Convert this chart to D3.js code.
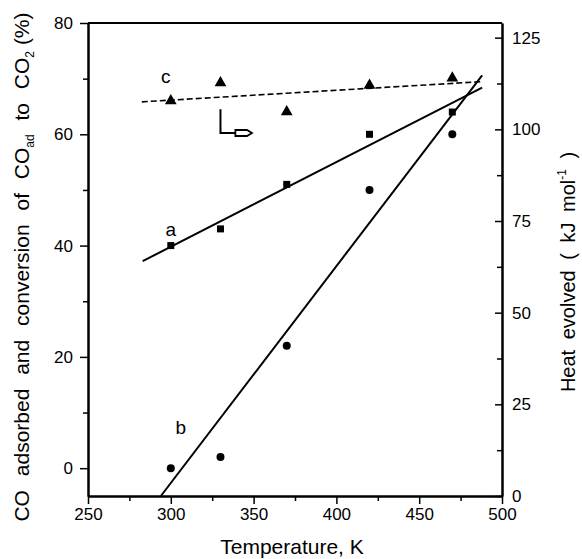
<!DOCTYPE html>
<html>
<head>
<meta charset="utf-8">
<script src="https://cdn.jsdelivr.net/npm/d3@7"></script>
<style>
  body { margin: 0; background: #fff; }
  svg { font-family: "Liberation Sans", Arial, sans-serif; }
</style>
</head>
<body>
<div id="chart"></div>
<script>
// Data
const temps = [300, 330, 370, 420, 470];
const convA = [40, 43, 51, 60, 64];          // squares, left axis (%)
const convB = [0, 2, 22, 50, 60];            // circles, left axis (%)
const heatC = [107.8, 112.7, 104.8, 112, 114]; // triangles, right axis (kJ/mol)

// fitted lines: [temperature, value]
const fitA = [[283, 37.2], [488, 68.4]];
const fitB = [[294, -5], [488, 70.6]];
const fitC = [[282.5, 107.5], [487.5, 113]];

const xTicks = [250, 300, 350, 400, 450, 500];
const yLeftTicks = [0, 20, 40, 60, 80];
const yRightTicks = [0, 25, 50, 75, 100, 125];

const margin = { top: 23, right: 80, bottom: 63, left: 88 };
const width = 582 - margin.left - margin.right;
const height = 559 - margin.top - margin.bottom;

const svg = d3.select("#chart")
  .append("svg")
  .attr("width", 582)
  .attr("height", 559);

const g = svg.append("g")
  .attr("transform", "translate(" + margin.left + "," + margin.top + ")");

const x = d3.scaleLinear().domain([250, 500]).range([0, width]);
const yL = d3.scaleLinear().domain([-5, 80]).range([height, 0]);
const yR = d3.scaleLinear().domain([0, 129]).range([height, 0]);

// frame top
g.append("line").attr("x1", 0).attr("x2", width).attr("y1", 0).attr("y2", 0)
  .attr("stroke", "#000").attr("stroke-width", 2);

// axes
function styleAxis(sel) {
  sel.select(".domain").attr("stroke-width", 2);
  sel.selectAll(".tick line").attr("stroke-width", 1.5);
  sel.selectAll("text").attr("font-size", 17).attr("fill", "#000");
}

g.append("g").attr("transform", "translate(0," + height + ")")
  .call(d3.axisBottom(x).tickValues(xTicks).tickSize(8).tickPadding(4).tickSizeOuter(0))
  .call(styleAxis);
g.append("g").attr("transform", "translate(0," + height + ")")
  .call(d3.axisBottom(x).tickValues([275, 325, 375, 425, 475]).tickSize(5).tickFormat("").tickSizeOuter(0))
  .call(styleAxis);

g.append("g")
  .call(d3.axisLeft(yL).tickValues(yLeftTicks).tickSize(8).tickPadding(7).tickSizeOuter(0))
  .call(styleAxis);
g.append("g")
  .call(d3.axisLeft(yL).tickValues([10, 30, 50, 70]).tickSize(5).tickFormat("").tickSizeOuter(0))
  .call(styleAxis);

g.append("g").attr("transform", "translate(" + width + ",0)")
  .call(d3.axisRight(yR).tickValues(yRightTicks).tickSize(-7).tickPadding(10).tickSizeOuter(0))
  .call(styleAxis);
g.append("g").attr("transform", "translate(" + width + ",0)")
  .call(d3.axisRight(yR).tickValues([12.5, 37.5, 62.5, 87.5, 112.5]).tickSize(-5).tickFormat("").tickSizeOuter(0))
  .call(styleAxis);

// fit lines
const lineL = d3.line().x(d => x(d[0])).y(d => yL(d[1]));
const lineR = d3.line().x(d => x(d[0])).y(d => yR(d[1]));

g.append("path").attr("d", lineL(fitA)).attr("fill", "none")
  .attr("stroke", "#000").attr("stroke-width", 2);
g.append("path").attr("d", lineL(fitB)).attr("fill", "none")
  .attr("stroke", "#000").attr("stroke-width", 2);
g.append("path").attr("d", lineR(fitC)).attr("fill", "none")
  .attr("stroke", "#000").attr("stroke-width", 1.6).attr("stroke-dasharray", "6,3");

// markers
g.selectAll(".sq").data(temps).enter().append("rect")
  .attr("x", (d) => x(d) - 3.5)
  .attr("y", (d, i) => yL(convA[i]) - 3.5)
  .attr("width", 7).attr("height", 7).attr("fill", "#000");

g.selectAll(".ci").data(temps).enter().append("circle")
  .attr("cx", d => x(d))
  .attr("cy", (d, i) => yL(convB[i]))
  .attr("r", 4).attr("fill", "#000");

const tri = d3.symbol().type(d3.symbolTriangle).size(60);
g.selectAll(".tr").data(temps).enter().append("path")
  .attr("d", tri)
  .attr("transform", (d, i) => "translate(" + x(d) + "," + yR(heatC[i]) + ")")
  .attr("fill", "#000");

// curve labels
const labels = [["a", 300, 41.8], ["b", 306, 6.2], ["c", 297, 69.2]];
g.selectAll(".lab").data(labels).enter().append("text")
  .attr("x", d => x(d[1]))
  .attr("y", d => yL(d[2]))
  .attr("font-size", 19)
  .attr("text-anchor", "middle")
  .text(d => d[0]);

// arrow marking that curve c belongs to right axis
const ax0 = x(330), ay0 = yR(105.5), ay1 = yR(99), ax1 = x(339);
g.append("path")
  .attr("d", "M" + ax0 + "," + ay0 + "V" + ay1 + "H" + ax1)
  .attr("fill", "none").attr("stroke", "#000").attr("stroke-width", 2);
const ah = x(349);
g.append("path")
  .attr("d", "M" + ax1 + "," + (ay1 - 3) + "L" + (ah - 5) + "," + (ay1 - 3) +
        "L" + ah + "," + ay1 + "L" + (ah - 5) + "," + (ay1 + 3) +
        "L" + ax1 + "," + (ay1 + 3) + "Z")
  .attr("fill", "#fff").attr("stroke", "#000").attr("stroke-width", 1.8);

// axis titles
svg.append("text")
  .attr("x", margin.left + width / 2 - 3)
  .attr("y", 554)
  .attr("text-anchor", "middle")
  .attr("font-size", 21)
  .text("Temperature, K");

const lt = svg.append("text")
  .attr("transform", "translate(29," + 267 + ") rotate(-90)")
  .attr("text-anchor", "middle")
  .attr("font-size", 21)
  .attr("word-spacing", 8);
lt.append("tspan").text("CO adsorbed and conversion of CO");
lt.append("tspan").attr("font-size", 12).attr("dy", 5).text("ad");
lt.append("tspan").attr("dy", -5).text(" to CO");
lt.append("tspan").attr("font-size", 12).attr("dy", 5).text("2");
lt.append("tspan").attr("dy", -5).attr("word-spacing", 0).text(" (%)");

const rt = svg.append("text")
  .attr("transform", "translate(575," + 272 + ") rotate(-90)")
  .attr("text-anchor", "middle")
  .attr("font-size", 20)
  .attr("word-spacing", 5);
rt.append("tspan").text("Heat evolved ( kJ mol");
rt.append("tspan").attr("font-size", 12).attr("dy", -9).text("-1");
rt.append("tspan").attr("dy", 9).text(" )");
</script>
</body>
</html>
